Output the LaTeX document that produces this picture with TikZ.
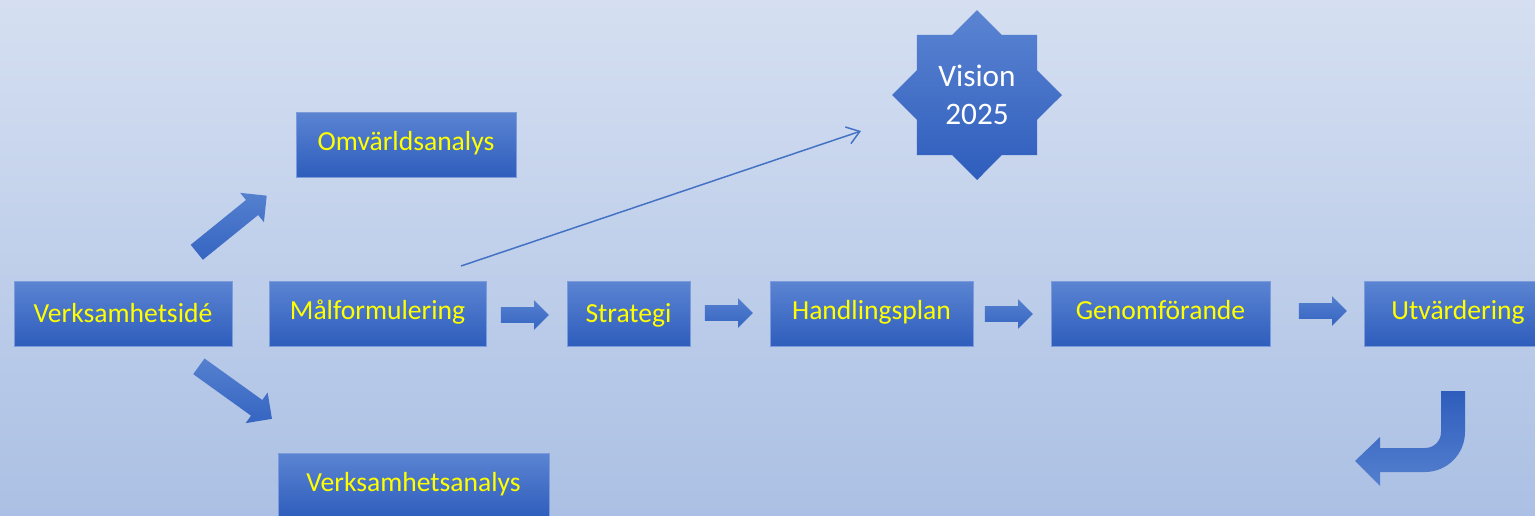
\documentclass[tikz,border=0pt]{standalone}
\usepackage{fontspec}
\setmainfont{Carlito}
\usepackage{xcolor}
\usepackage{tikz}
\usetikzlibrary{shapes.geometric, shapes.arrows, arrows.meta, positioning}
\definecolor{bgtop}{HTML}{D5DFF1}
\definecolor{bgbottom}{HTML}{ABC0E4}
\definecolor{boxtop}{HTML}{5B84D2}
\definecolor{boxbottom}{HTML}{2E5DBC}
\definecolor{boxline}{HTML}{7B9BDA}
\definecolor{arrowtop}{HTML}{5580CF}
\definecolor{arrowbottom}{HTML}{3565C2}
\definecolor{arrowblue}{HTML}{4472C4}
\definecolor{txtyellow}{HTML}{FFFF00}
\tikzset{stepbox/.style={draw=boxline, line width=0.5pt, top color=boxtop, bottom color=boxbottom,
  text=txtyellow, font=\fontsize{15.7}{19}\selectfont, minimum height=1.3cm, inner sep=0pt,
  text height=0.84em, text depth=0.2em},
lowtext/.style={text height=1.22em},
flowarrow/.style={single arrow, draw=none, inner xsep=0pt, inner ysep=0.15cm, top color=arrowtop, bottom color=arrowbottom,
  single arrow head extend=0.14cm, minimum height=0.96cm},
%the two slanted arrows are a bit fatter
bigarrow/.style={flowarrow, inner ysep=0.186cm, single arrow head extend=0.184cm, minimum height=1.8cm},
visionline/.style={draw=arrowblue, line width=0.85pt, -{Straight Barb[length=7pt, width=10pt]}}}

\begin{document}
\begin{tikzpicture}[x=0.02cm, y=-0.02cm]
 \useasboundingbox (0,0) rectangle (1535,515);
 \clip (0,0) rectangle (1535,515);
 \shade[top color=bgtop, bottom color=bgbottom] (0,0) rectangle (1535,515);

 % boxes
 \node[stepbox, lowtext, minimum width=4.36cm] (idea) at (123,313.5) {Verksamhetsidé};
 \node[stepbox, minimum width=4.34cm] (goals) at (377.5,313.5) {Målformulering};
 \node[stepbox, minimum width=4.4cm] (world) at (406,144.5) {Omvärldsanalys};
 \node[stepbox, minimum width=5.42cm] (business) at (413.5,485.5) {Verksamhetsanalys};
 \node[stepbox, lowtext, minimum width=2.46cm] (strategy) at (628.5,313.5) {Strategi};
 \node[stepbox, minimum width=4.06cm] (plan) at (871.5,313.5) {Handlingsplan};
 \node[stepbox, minimum width=4.38cm] (execution) at (1160.5,313.5) {Genomförande};
 \node[stepbox, minimum width=3.76cm] (evaluation) at (1458,313.5) {Utvärdering};

 % vision star
 \node[star, star points=8, star point ratio=1.307, minimum size=3.4cm, inner sep=0pt,
  top color=boxtop, bottom color=boxbottom, draw=none, text=white, align=center,
  font=\fontsize{17.8}{22}\selectfont] (vision) at (977,95) {Vision\\2025};

 % block arrows
 \node[flowarrow] (a1) at (521,315) {};
 \node[flowarrow] (a2) at (725,313) {};
 \node[flowarrow] (a3) at (1005,314) {};
 \node[flowarrow] (a4) at (1319,311) {};
 \node[bigarrow, rotate=39] (up) at (228,227) {};
 \node[bigarrow, rotate=-35.7] (down) at (231.5,389.75) {};

 \coordinate (visfrom) at (461,266);
 \coordinate (visto) at (861,131);
 \draw[visionline] (visfrom) -- (visto);

 % turn back arrow
 \shade[top color=boxbottom, bottom color=arrowtop] (1441,391) -- (1465,391) -- (1465,432)
  .. controls (1465,454) and (1447,472) .. (1425,472) -- (1380,472) -- (1380,486) -- (1355,461)
  -- (1380,437) -- (1380,448) -- (1425,448) .. controls (1434,448) and (1441,441) .. (1441,432) -- cycle;

\end{tikzpicture}
\end{document}
